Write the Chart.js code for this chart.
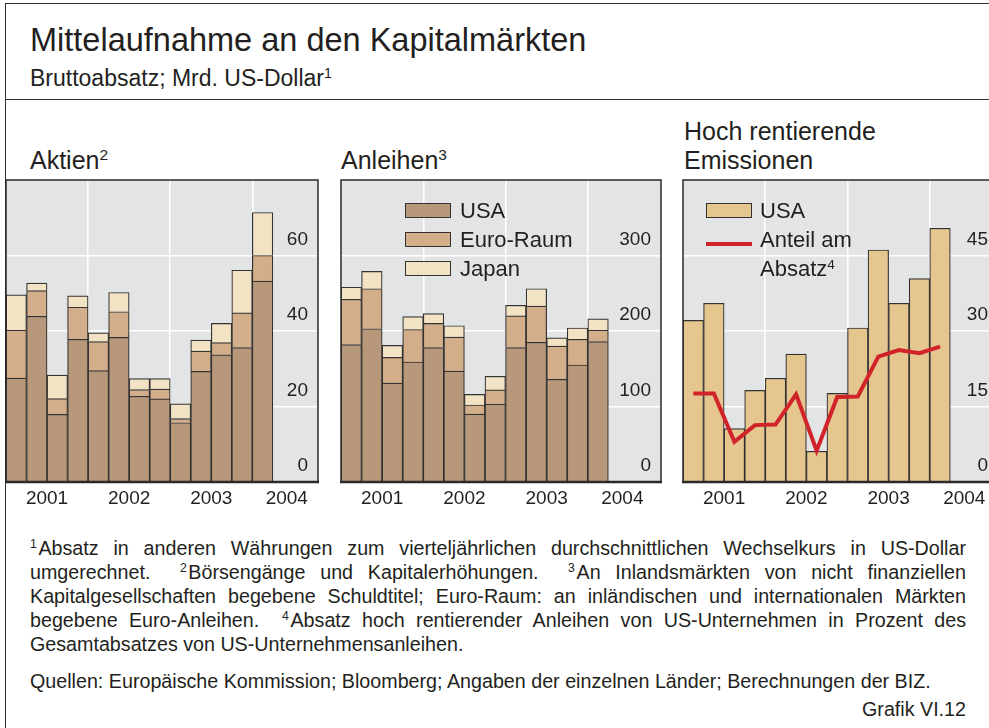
<!DOCTYPE html>
<html><head><meta charset="utf-8">
<script src="https://cdn.jsdelivr.net/npm/chart.js@4.4.0/dist/chart.umd.min.js"></script>
<style>
html,body{margin:0;padding:0;background:#fff;overflow:hidden;width:989px;height:728px;}
body{position:relative;font-family:"Liberation Sans",Arial,sans-serif;color:#231f20;}
.abs{position:absolute;white-space:nowrap;line-height:1;}
sup{font-size:0.62em;vertical-align:0;position:relative;top:-0.55em;}
.fn{position:absolute;left:30px;width:936px;font-size:19.7px;line-height:24px;white-space:nowrap;}
.just{text-align:justify;text-align-last:justify;white-space:normal;}
canvas{position:absolute;}
.lgbox{position:absolute;width:44px;height:13px;border:1px solid #333;}
</style></head><body>
<div style="position:absolute;left:5px;top:3px;width:1100px;height:800px;border-left:1.5px solid #333;border-top:1.5px solid #333;"></div>
<div style="position:absolute;left:5px;top:99px;width:1100px;height:0;border-top:1.5px solid #333;"></div>

<div class="abs" style="left:30px;top:24px;font-size:32.5px;">Mittelaufnahme an den Kapitalmärkten</div>
<div class="abs" style="left:30px;top:67px;font-size:23px;">Bruttoabsatz; Mrd. US-Dollar<sup>1</sup></div>

<div class="abs" style="left:30px;top:148px;font-size:25px;">Aktien<sup>2</sup></div>
<div class="abs" style="left:341px;top:148px;font-size:25px;">Anleihen<sup>3</sup></div>
<div class="abs" style="left:684px;top:119px;font-size:25px;">Hoch rentierende</div>
<div class="abs" style="left:684px;top:148px;font-size:25px;">Emissionen</div>

<canvas id="c1" width="320" height="334" style="left:2px;top:176px;"></canvas>
<canvas id="c2" width="328" height="334" style="left:337px;top:176px;"></canvas>
<canvas id="c3" width="323" height="334" style="left:679px;top:176px;"></canvas>
<div id="leg2"></div>
<div id="leg3"></div>

<div class="fn just" style="top:536px;"><sup>1</sup>&#8202;Absatz in anderen Währungen zum vierteljährlichen durchschnittlichen Wechselkurs in US-Dollar</div>
<div class="fn just" style="top:560px;">umgerechnet. &nbsp;<sup>2</sup>&#8202;Börsengänge und Kapitalerhöhungen. &nbsp;<sup>3</sup>&#8202;An Inlandsmärkten von nicht finanziellen</div>
<div class="fn just" style="top:584px;">Kapitalgesellschaften begebene Schuldtitel; Euro-Raum: an inländischen und internationalen Märkten</div>
<div class="fn just" style="top:608px;">begebene Euro-Anleihen. &nbsp;<sup>4</sup>&#8202;Absatz hoch rentierender Anleihen von US-Unternehmen in Prozent des</div>
<div class="fn" style="top:632px;">Gesamtabsatzes von US-Unternehmensanleihen.</div>
<div class="fn" style="top:669px;">Quellen: Europäische Kommission; Bloomberg; Angaben der einzelnen Länder; Berechnungen der BIZ.</div>
<div class="fn" style="top:697px;text-align:right;">Grafik VI.12</div>

<script>
// ---- data ----
const quarters = ['2001 Q1','2001 Q2','2001 Q3','2001 Q4','2002 Q1','2002 Q2','2002 Q3','2002 Q4','2003 Q1','2003 Q2','2003 Q3','2003 Q4','2004 Q1'];
const yearLabels = ['2001','2002','2003','2004'];
const yearLabelPos = [2001.5, 2002.5, 2003.5, 2004.42];
const yearGrid = [2002, 2003, 2004];

const seriesNames = ['USA','Euro-Raum','Japan'];

const aktienUSA   = [27.5, 43.9, 17.9, 37.8, 29.5, 38.3, 22.7, 22.0, 15.7, 29.3, 33.7, 35.6, 53.2];
const aktienEuro  = [12.7,  6.8,  4.2,  8.5,  7.7,  6.8,  1.8,  2.6,  1.1,  5.4,  3.2,  9.2,  6.8];
const aktienJapan = [ 9.4,  2.0,  6.2,  3.0,  2.3,  5.1,  2.9,  2.8,  3.9,  2.9,  5.1, 11.3, 11.4];
const aktienTicks = [0, 20, 40, 60];

const anlUSA   = [182, 203, 131, 159, 178, 147,  90, 103, 178, 185, 136, 155, 186];
const anlEuro  = [ 60,  53,  34,  43,  32,  45,  12,  19,  42,  48,  44,  34,  15];
const anlJapan = [ 16,  23,  16,  17,  13,  15,  14,  18,  14,  23,  11,  15,  15];
const anlTicks = [0, 100, 200, 300];

const hyUSA   = [32.1, 35.5, 10.6, 18.2, 20.6, 25.4,  6.1, 17.6, 30.6, 46.1, 35.5, 40.4, 50.4];
const hyShare = [17.6, 17.6,  8.0, 11.3, 11.4, 17.4,  6.2, 16.9, 17.0, 24.9, 26.2, 25.6, 26.9];
const hyTicks = [0, 15, 30, 45];
const hyNames = ['USA', 'Anteil am Absatz'];

// ---- styles ----
const FONT = '"Liberation Sans", Arial, sans-serif';
const TXT = '#231f20';
const BG = '#e3e4e6';
const C_USA = '#b8987a', C_EURO = '#d2ae8a', C_JAP = '#f1e3c3', C_HY = '#e5c68e', C_RED = '#d1232a';
const seriesColors = [C_USA, C_EURO, C_JAP];

const qx = quarters.map(q => { const [y, qq] = q.split(' Q'); return +y + (+qq - 0.5) / 4; });
const pts = arr => arr.map((v, i) => ({x: qx[i], y: v}));

const framePlugin = {
  id: 'frame',
  beforeDraw(c) {
    const a = c.chartArea, ctx = c.ctx;
    ctx.save(); ctx.fillStyle = BG; ctx.fillRect(a.left, a.top, a.right - a.left, a.bottom - a.top); ctx.restore();
  },
  afterDraw(c) {
    const a = c.chartArea, ctx = c.ctx;
    ctx.save(); ctx.strokeStyle = '#2a2a2a'; ctx.lineWidth = 1.5;
    ctx.strokeRect(a.left, a.top, a.right - a.left, a.bottom - a.top);
    ctx.lineWidth = 2.5; ctx.beginPath(); ctx.moveTo(a.left - 1, a.bottom); ctx.lineTo(a.right + 1, a.bottom); ctx.stroke();
    ctx.restore();
  }
};

function makeChart(id, xMax, yMax, yTicks, datasets, stacked) {
  return new Chart(document.getElementById(id), {
    type: 'bar',
    data: {datasets},
    plugins: [framePlugin],
    options: {
      responsive: false, animation: false, events: [],
      layout: {padding: {left: 4, right: 4, top: 4, bottom: 0}},
      plugins: {legend: {display: false}, tooltip: {enabled: false}},
      datasets: {bar: {barPercentage: 1, categoryPercentage: 1}},
      scales: {
        x: {
          type: 'linear', position: 'top', min: 2001, max: xMax, offset: false,
          afterBuildTicks(s) { s.ticks = yearGrid.map(v => ({value: v})); },
          ticks: {display: false},
          grid: {color: '#ffffff', lineWidth: 1.5, drawTicks: false, offset: false},
          border: {display: false},
          afterFit(s) { s.height = 0; }
        },
        xl: {
          type: 'linear', position: 'bottom', min: 2001, max: xMax, offset: false,
          afterBuildTicks(s) { s.ticks = yearLabelPos.map(v => ({value: v})); },
          ticks: {autoSkip: false, maxRotation: 0, padding: 5, color: TXT, font: {family: FONT, size: 19},
                  callback: (v, i) => yearLabels[i]},
          grid: {display: false, drawTicks: false, offset: false},
          border: {display: false},
          afterFit(s) { s.height = 28; }
        },
        y: {
          position: 'right', min: 0, max: yMax, stacked: stacked,
          afterBuildTicks(s) { s.ticks = yTicks.map(v => ({value: v})); },
          ticks: {mirror: true, padding: -10, labelOffset: -16, color: TXT, font: {family: FONT, size: 19}},
          grid: {color: '#ffffff', lineWidth: 1.5, drawTicks: false},
          border: {display: false},
          afterFit(s) { s.width = 0; }
        }
      }
    }
  });
}

const barStyle = {borderColor: '#333333', borderWidth: 1.2, xAxisID: 'x', yAxisID: 'y', order: 1};

makeChart('c1', 2004.80, 80, aktienTicks, [
  Object.assign({label: seriesNames[0], data: pts(aktienUSA), backgroundColor: C_USA, stack: 's'}, barStyle),
  Object.assign({label: seriesNames[1], data: pts(aktienEuro), backgroundColor: C_EURO, stack: 's'}, barStyle),
  Object.assign({label: seriesNames[2], data: pts(aktienJapan), backgroundColor: C_JAP, stack: 's'}, barStyle)
], true);

makeChart('c2', 2004.89, 400, anlTicks, [
  Object.assign({label: seriesNames[0], data: pts(anlUSA), backgroundColor: C_USA, stack: 's'}, barStyle),
  Object.assign({label: seriesNames[1], data: pts(anlEuro), backgroundColor: C_EURO, stack: 's'}, barStyle),
  Object.assign({label: seriesNames[2], data: pts(anlJapan), backgroundColor: C_JAP, stack: 's'}, barStyle)
], true);

makeChart('c3', 2004.83, 60, hyTicks, [
  Object.assign({label: hyNames[0], data: pts(hyUSA), backgroundColor: C_HY}, barStyle),
  {type: 'line', label: hyNames[1], data: pts(hyShare), borderColor: C_RED, borderWidth: 4, pointRadius: 0,
   tension: 0, fill: false, xAxisID: 'x', yAxisID: 'y', order: 0}
], false);

// ---- HTML legends ----
const leg2 = document.getElementById('leg2');
seriesNames.forEach((n, i) => {
  const top = 203 + i * 29;
  leg2.insertAdjacentHTML('beforeend',
    `<div class="lgbox" style="left:405px;top:${top}px;background:${seriesColors[i]}"></div>` +
    `<div class="abs" style="left:460px;top:${top - 3.5}px;font-size:22px;">${n}</div>`);
});
const leg3 = document.getElementById('leg3');
leg3.insertAdjacentHTML('beforeend',
  `<div class="lgbox" style="left:706px;top:203px;background:${C_HY}"></div>` +
  `<div class="abs" style="left:760px;top:199.5px;font-size:22px;">${hyNames[0]}</div>` +
  `<div style="position:absolute;left:706px;top:242px;width:46px;height:4px;background:${C_RED}"></div>` +
  `<div class="abs" style="left:760px;top:225px;font-size:22px;line-height:29px;">Anteil am<br>Absatz<sup>4</sup></div>`);
</script>
</body></html>
